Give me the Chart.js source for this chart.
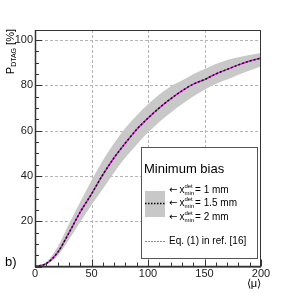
<!DOCTYPE html>
<html>
<head>
<meta charset="utf-8">
<script src="https://cdn.jsdelivr.net/npm/chart.js@4"></script>
<style>
  html, body { margin: 0; padding: 0; background: #fff; }
  #wrap { position: relative; width: 281px; height: 296px; }
</style>
</head>
<body>
<div id="wrap"><canvas id="ptagChart" width="281" height="296"></canvas></div>
<script>
// <mu> values
var mu = [0, 10, 20, 30, 40, 50, 60, 70, 80, 90, 100, 110, 120, 130, 140, 150, 160, 170, 180, 190, 200];
// x_min^det = 1.5 mm (central)
var pMid = [0, 1.3, 6.2, 14.8, 24, 32, 40.5, 48, 54.5, 60.5, 65.5, 70, 74, 77.5, 80.5, 82.5, 85, 87, 89, 90.7, 92];
// x_min^det = 1 mm (upper edge of band)
var pUpper = [0, 2, 8.6, 18.8, 28.5, 38, 46.8, 54.4, 61.1, 66.7, 71.6, 75.9, 79.5, 82.1, 84.9, 87.2, 89.4, 91.2, 92.4, 93.4, 94.3];
// x_min^det = 2 mm (lower edge of band)
var pLower = [0, 1, 4.8, 11.8, 19.6, 27.1, 34.2, 41.5, 48.1, 53.8, 59.1, 63.8, 67.9, 71.6, 75, 78, 80.6, 82.5, 84.6, 86.5, 88.4];
// Eq. (1) in ref. [16]
var pEq1 = [0, 1.3, 6.2, 14.8, 24, 32, 40.5, 48, 54.5, 60.5, 65.5, 70, 74, 77.5, 80.5, 82.5, 85, 87, 89, 90.7, 92];

var xTicks = [0, 50, 100, 150, 200];
var yTicks = [0, 20, 40, 60, 80, 100];

function pts(ys) {
    return mu.map(function(m, i) { return { x: m, y: ys[i] }; });
}

var FONT = '"Liberation Sans", Arial, sans-serif';

// frame, dotted grid and inward ROOT-style ticks
var frameGrid = {
    id: 'frameGrid',
    beforeDatasetsDraw: function(chart) {
        var c = chart.ctx, a = chart.chartArea;
        var xs = chart.scales.x, ys = chart.scales.y;
        c.save();
        c.strokeStyle = '#b4b4b4';
        c.lineWidth = 1;
        c.setLineDash([3, 2]);
        xTicks.forEach(function(v) {
            if (v === 0 || v === 200) return;
            var px = Math.round(xs.getPixelForValue(v)) + 0.5;
            c.beginPath(); c.moveTo(px, a.top); c.lineTo(px, a.bottom); c.stroke();
        });
        yTicks.forEach(function(v) {
            if (v === 0) return;
            var py = Math.round(ys.getPixelForValue(v)) + 0.5;
            c.beginPath(); c.moveTo(a.left, py); c.lineTo(a.right, py); c.stroke();
        });
        c.restore();
    },
    afterDatasetsDraw: function(chart) {
        var c = chart.ctx, a = chart.chartArea;
        var xs = chart.scales.x, ys = chart.scales.y;
        c.save();
        c.strokeStyle = '#333';
        c.lineWidth = 1;
        c.strokeRect(a.left + 0.5, a.top + 0.5, a.right - a.left - 1, a.bottom - a.top);
        c.lineWidth = 1.5;
        c.beginPath();
        c.moveTo(a.left + 0.5, a.top); c.lineTo(a.left + 0.5, a.bottom);
        c.lineTo(a.right, a.bottom);
        c.stroke();
        c.lineWidth = 1;
        var v, px, py, len;
        for (v = 0; v <= 200; v += 10) {
            px = Math.round(xs.getPixelForValue(v)) + 0.5;
            len = (v % 50 === 0) ? 7 : 4;
            c.beginPath(); c.moveTo(px, a.bottom); c.lineTo(px, a.bottom - len); c.stroke();
        }
        for (v = 0; v <= 100; v += 5) {
            py = Math.round(ys.getPixelForValue(v)) + 0.5;
            len = (v % 20 === 0) ? 7 : 4;
            c.beginPath(); c.moveTo(a.left, py); c.lineTo(a.left + len, py); c.stroke();
        }
        c.restore();
    }
};

// legend box, axis titles and panel label
var decorations = {
    id: 'decorations',
    afterDraw: function(chart) {
        var c = chart.ctx;
        c.save();
        // legend box
        c.fillStyle = '#fff';
        c.fillRect(141, 147, 117, 112);
        c.strokeStyle = '#555';
        c.lineWidth = 1;
        c.strokeRect(141.5, 147.5, 116, 111);

        c.fillStyle = '#000';
        c.textBaseline = 'middle';
        c.font = '13px ' + FONT;
        c.fillText('Minimum bias', 144, 169);

        c.fillStyle = '#c8c8c8';
        c.fillRect(145, 191, 20, 26);
        c.strokeStyle = '#000';
        c.lineWidth = 1.5;
        c.setLineDash([1.5, 1.5]);
        c.beginPath(); c.moveTo(145, 203.5); c.lineTo(165, 203.5); c.stroke();
        c.strokeStyle = '#ff33ff';
        c.lineWidth = 1;
        c.setLineDash([2, 1]);
        c.beginPath(); c.moveTo(145, 241.5); c.lineTo(165, 241.5); c.stroke();
        c.setLineDash([]);

        c.fillStyle = '#000';
        [['1', 190.5], ['1.5', 203.5], ['2', 217]].forEach(function(r) {
            var x = 169;
            c.font = '10px "DejaVu Sans", sans-serif';
            c.fillText('\u2190', x, r[1]);
            x += c.measureText('\u2190').width + 2;
            c.font = '10px ' + FONT;
            c.fillText('x', x, r[1]);
            x += c.measureText('x').width;
            c.font = '6px ' + FONT;
            c.fillText('det', x, r[1] - 4);
            c.fillText('min', x, r[1] + 3);
            x += c.measureText('min').width + 1;
            c.font = '10px ' + FONT;
            c.fillText('= ' + r[0] + ' mm', x, r[1]);
        });
        c.fillText('Eq. (1) in ref. [16]', 169, 241.5);

        // y title, rotated
        c.save();
        c.translate(11, 29);
        c.rotate(-Math.PI / 2);
        c.textAlign = 'left';
        var parts = [['P', 11, 0], ['DTAG', 7, 3], [' [%]', 11, 0]];
        var tw = 0;
        parts.forEach(function(p) { c.font = p[1] + 'px ' + FONT; tw += c.measureText(p[0]).width; });
        var tx = -tw;
        parts.forEach(function(p) {
            c.font = p[1] + 'px ' + FONT;
            c.fillText(p[0], tx, p[2]);
            tx += c.measureText(p[0]).width;
        });
        c.restore();

        // x title
        c.font = '11px ' + FONT;
        c.textAlign = 'center';
        c.fillText('\u27e8\u03bc\u27e9', 254, 284);

        // panel label
        c.textAlign = 'left';
        c.font = '13px ' + FONT;
        c.fillText('b)', 5, 262);
        c.restore();
    }
};

document.addEventListener('DOMContentLoaded', function() {
    var ctx = document.getElementById('ptagChart').getContext('2d');
    var ptagChart = new Chart(ctx, {
        type: 'line',
        data: {
            datasets: [{
                label: 'x_min = 1 mm',
                data: pts(pUpper),
                borderWidth: 0,
                pointRadius: 0,
                backgroundColor: '#c8c8c8',
                fill: '+1',
                cubicInterpolationMode: 'monotone',
                order: 5
            }, {
                label: 'x_min = 2 mm',
                data: pts(pLower),
                borderWidth: 0,
                pointRadius: 0,
                fill: false,
                cubicInterpolationMode: 'monotone',
                order: 4
            }, {
                label: 'Eq. (1) in ref. [16]',
                data: pts(pEq1),
                borderColor: '#dd22dd',
                borderWidth: 1.5,
                pointRadius: 0,
                fill: false,
                cubicInterpolationMode: 'monotone',
                order: 2
            }, {
                label: 'x_min = 1.5 mm',
                data: pts(pMid),
                borderColor: '#111',
                borderWidth: 1.5,
                borderDash: [2, 2],
                pointRadius: 0,
                fill: false,
                cubicInterpolationMode: 'monotone',
                order: 1
            }]
        },
        options: {
            responsive: false,
            animation: false,
            maintainAspectRatio: false,
            layout: { padding: { top: 30, right: 20, left: 0, bottom: 0 } },
            plugins: {
                legend: { display: false },
                tooltip: { enabled: false }
            },
            scales: {
                x: {
                    type: 'linear',
                    min: 0,
                    max: 200,
                    afterFit: function(s) { s.height = 29.5; },
                    afterBuildTicks: function(s) { s.ticks = xTicks.map(function(v) { return { value: v }; }); },
                    grid: { display: false, drawTicks: false, tickLength: 0 },
                    border: { display: false },
                    ticks: { padding: 1, color: '#222', font: { family: FONT, size: 11 } }
                },
                y: {
                    type: 'linear',
                    min: 0,
                    max: 104.4,
                    afterFit: function(s) { s.width = 35; },
                    afterBuildTicks: function(s) { s.ticks = yTicks.filter(function(v) { return v > 0; }).map(function(v) { return { value: v }; }); },
                    grid: { display: false, drawTicks: false, tickLength: 0 },
                    border: { display: false },
                    ticks: { padding: 2, color: '#222', font: { family: FONT, size: 11 } }
                }
            }
        },
        plugins: [frameGrid, decorations]
    });
});
</script>
</body>
</html>
